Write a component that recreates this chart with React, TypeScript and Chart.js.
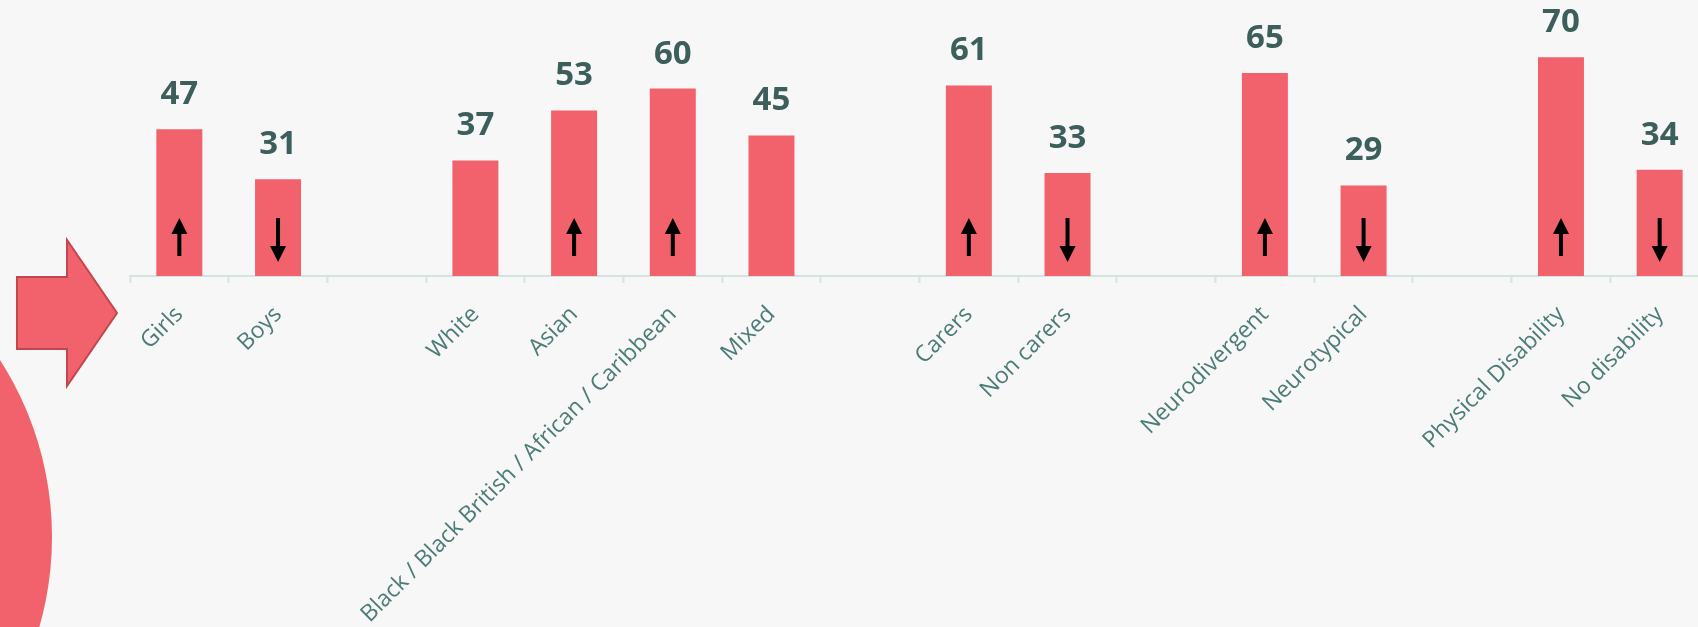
import React, { useEffect, useRef } from "react";
import { Chart, registerables } from "chart.js";

Chart.register(...registerables);

const categories: string[] = [
  "Girls", "Boys", "",
  "White", "Asian", "Black / Black British / African / Caribbean", "Mixed", "",
  "Carers", "Non carers", "",
  "Neurodivergent", "Neurotypical", "",
  "Physical Disability", "No disability",
];

const values: (number | null)[] = [
  47, 31, null,
  37, 53, 60, 45, null,
  61, 33, null,
  65, 29, null,
  70, 34,
];

const arrows: string[] = [
  "up", "down", "",
  "", "up", "up", "", "",
  "up", "down", "",
  "up", "down", "",
  "up", "down",
];

const BAR = "#f2626c";
const BG = "#f7f7f7";

const decorPlugin = {
  id: "decor",
  beforeDraw(chart: any) {
    const ctx = chart.ctx;
    ctx.save();
    ctx.fillStyle = BG;
    ctx.fillRect(0, 0, chart.width, chart.height);
    // big circle
    ctx.beginPath();
    ctx.arc(-275, 537, 327, 0, Math.PI * 2);
    ctx.fillStyle = BAR;
    ctx.fill();
    // block arrow
    ctx.beginPath();
    ctx.moveTo(17, 277);
    ctx.lineTo(67, 277);
    ctx.lineTo(67, 240);
    ctx.lineTo(117, 313);
    ctx.lineTo(67, 386);
    ctx.lineTo(67, 349);
    ctx.lineTo(17, 349);
    ctx.closePath();
    ctx.fillStyle = BAR;
    ctx.fill();
    ctx.lineWidth = 2;
    ctx.strokeStyle = "#c2464f";
    ctx.stroke();
    ctx.restore();
  },
  afterDatasetsDraw(chart: any) {
    const ctx = chart.ctx;
    const meta = chart.getDatasetMeta(0);
    const base = chart.scales.y.getPixelForValue(0);
    ctx.save();
    meta.data.forEach((bar: any, i: number) => {
      const v = values[i];
      if (v === null || v === undefined) return;
      ctx.fillStyle = "#3c5f5b";
      ctx.font = "bold 33px 'Open Sans'";
      ctx.textAlign = "center";
      ctx.textBaseline = "alphabetic";
      ctx.fillText(String(v), bar.x, bar.y - 25);
      const dir = arrows[i];
      const x = bar.x;
      ctx.fillStyle = "#000";
      if (dir === "up") {
        ctx.fillRect(x - 2, base - 43, 4, 23);
        ctx.beginPath();
        ctx.moveTo(x - 8, base - 42);
        ctx.lineTo(x + 8, base - 42);
        ctx.lineTo(x, base - 58);
        ctx.closePath();
        ctx.fill();
      } else if (dir === "down") {
        ctx.fillRect(x - 2, base - 58, 4, 29);
        ctx.beginPath();
        ctx.moveTo(x - 8, base - 30);
        ctx.lineTo(x + 8, base - 30);
        ctx.lineTo(x, base - 14);
        ctx.closePath();
        ctx.fill();
      }
    });
    ctx.restore();
  },
};

export default function App() {
  const ref = useRef<HTMLCanvasElement | null>(null);
  useEffect(() => {
    document.body.style.margin = "0";
    const canvas = ref.current!;
    const chart = new Chart(canvas, {
      type: "bar",
      data: {
        labels: categories,
        datasets: [
          {
            data: values as any,
            backgroundColor: BAR,
            borderWidth: 0,
            barPercentage: 0.466,
            categoryPercentage: 1,
          },
        ],
      },
      options: {
        responsive: false,
        animation: false,
        devicePixelRatio: 1,
        layout: { padding: { left: 130, right: 31, top: 26, bottom: 0 } },
        plugins: { legend: { display: false }, tooltip: { enabled: false } },
        scales: {
          y: { display: false, min: 0, max: 80 },
          x: {
            offset: true,
            border: { display: true, color: "#d3e5e3", width: 2 },
            grid: {
              display: true,
              offset: true,
              drawOnChartArea: false,
              drawTicks: true,
              tickLength: 7,
              tickWidth: 2,
              tickColor: "#d3e5e3",
            },
            ticks: {
              minRotation: 45,
              maxRotation: 45,
              autoSkip: false,
              padding: 18,
              color: "#4b7c77",
              font: { family: "'Open Sans'", size: 23 },
            },
            afterFit(scale: any) {
              scale.height = 351;
            },
          },
        },
      },
      plugins: [decorPlugin],
    });
    return () => chart.destroy();
  }, []);
  return (
    <div
      style={{
        position: "absolute",
        left: 0,
        top: 0,
        width: 1698,
        height: 627,
        overflow: "hidden",
        background: BG,
      }}
    >
      <canvas ref={ref} width={1740} height={627} style={{ display: "block", width: 1740, height: 627 }} />
    </div>
  );
}
